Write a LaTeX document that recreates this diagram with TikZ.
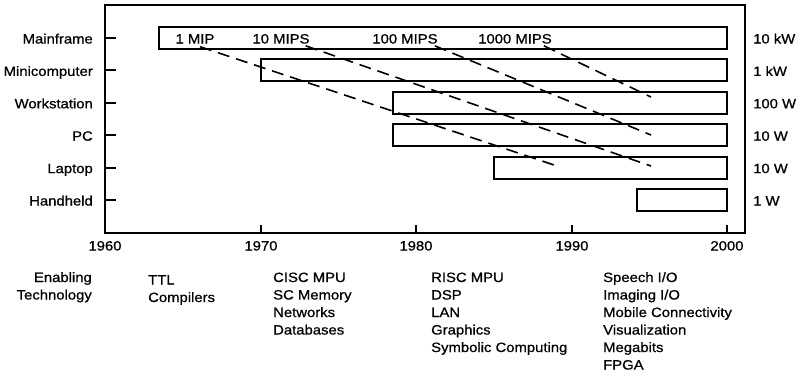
\documentclass[tikz,border=0pt]{standalone}
\usepackage{fontspec}
\setmainfont{Liberation Sans}[FakeStretch=1.1,FakeBold=0.8]
\newcommand{\yx}[1]{round(105+15.55*(#1-1960))}
\tikzset{
  bar/.style={draw,line width=2pt},
  txt/.style={inner sep=0pt},
  mips/.style={line width=1.6pt,dash pattern=on 12pt off 7pt}
}

\begin{document}
\begin{tikzpicture}[x=1pt,y=-1pt,font=\fontsize{13.5}{17.5}\selectfont]
\useasboundingbox (0,0) rectangle (807,376);
% frame
\draw[line width=2pt] (105,5) rectangle (745,233);
% rows, bars and power
\foreach \name/\lab/\watt/\start [count=\i from 0] in
  {mainframe/Mainframe/10 kW/1963.5, mini/Minicomputer/1 kW/1970,
   workstation/Workstation/100 W/1978.5, pc/PC/10 W/1978.5,
   laptop/Laptop/10 W/1985, handheld/Handheld/1 W/1994.2}
{
  \node[txt,anchor=base east] (\name) at (93,{43.5+32.4*\i}) {\lab};
  \draw[line width=2pt] (105,{round(38+32.4*\i)}) -- (116,{round(38+32.4*\i)});
  \draw[bar] ({\yx{\start}},{round(27+32.4*\i)}) rectangle ({\yx{2000}},{round(49+32.4*\i)});
  \node[txt,anchor=base west] (\name-p) at (753,{43.5+32.4*\i}) {\watt};
}
% years
\foreach \yr in {1960,1970,...,2000}
{
  \draw[line width=2pt] ({\yx{\yr}},233) -- ({\yx{\yr}},225);
  \node[txt,anchor=base] (y\yr) at ({\yx{\yr}},250.5) {\yr};
}
% MIPS
\node[txt,anchor=base] (mip1) at (195,43.5) {1 MIP};
\node[txt,anchor=base] (mip10) at (281,43.5) {10 MIPS};
\node[txt,anchor=base] (mip100) at (405,43.5) {100 MIPS};
\node[txt,anchor=base] (mip1000) at (515,43.5) {1000 MIPS};
\coordinate (e1) at (557,166);
\coordinate (e10) at (651,166);
\coordinate (e100) at (651,135);
\coordinate (e1000) at (651,97);
\draw[mips] (mip1.south)++(5,3) -- (e1);
\draw[mips] (mip10.south east)++(-4,2) -- (e10);
\draw[mips] (mip100.south east)++(-3,2) -- (e100);
\draw[mips] (mip1000.south east)++(-8,2) -- (e1000);
% enabling technology (base = last line)
\node[txt,anchor=base east,align=right] (tech) at (92,299.5) {Enabling\\Technology};
\node[txt,anchor=base west,align=left] (t60) at (148,302) {TTL\\Compilers};
\node[txt,anchor=base west,align=left] (t70) at (273,334.5) {CISC MPU\\SC Memory\\Networks\\Databases};
\node[txt,anchor=base west,align=left] (t80) at (431,352) {RISC MPU\\DSP\\LAN\\Graphics\\Symbolic Computing};
\node[txt,anchor=base west,align=left] (t90) at (603,369.5) {Speech I/O\\Imaging I/O\\Mobile Connectivity\\Visualization\\Megabits\\FPGA};
\end{tikzpicture}
\end{document}
